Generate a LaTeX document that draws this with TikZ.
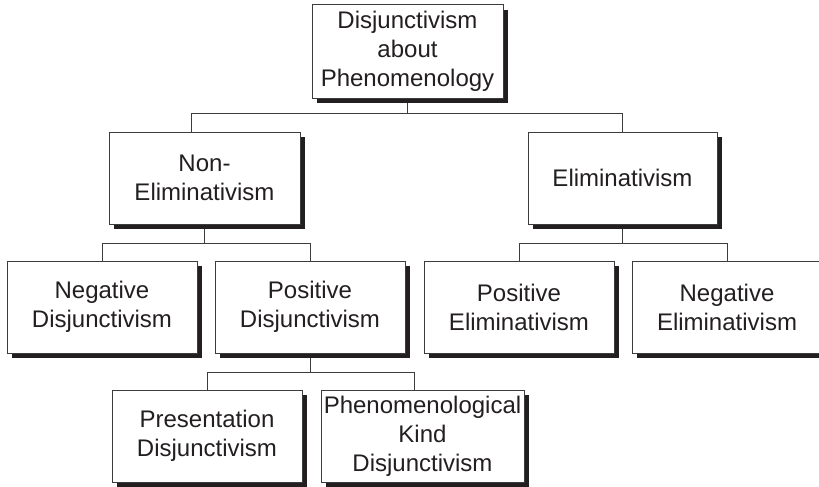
\documentclass[tikz,border=0pt]{standalone}
\usepackage{fontspec}
\setmainfont{Liberation Sans}
\usetikzlibrary{shadows,backgrounds}
\definecolor{ink}{HTML}{231F20}
\definecolor{edgec}{HTML}{3C3C3C}
\begin{document}
\begin{tikzpicture}[x=1pt,y=-1pt,
  box/.style={draw=edgec, line width=1pt, fill=white, align=center, text=ink,
    inner sep=2pt, minimum height=92pt,
    font=\fontsize{24}{29}\selectfont,
    drop shadow={shadow xshift=5pt, shadow yshift=-5pt, fill=ink, opacity=1}},
  link/.style={draw=edgec, line width=1pt}]
\useasboundingbox (0,0) rectangle (819,487);
\clip (0,0) rectangle (819,487);

\node[box, minimum width=191pt, minimum height=93pt] (top) at (407.5,51.5) {Disjunctivism\\about\\Phenomenology};

\node[box, minimum width=191pt] (nonelim) at (204.5,178) {Non-\\Eliminativism};
\node[box, minimum width=189pt] (elim) at (622.5,178) {Eliminativism};

\node[box, minimum width=190pt] (negd) at (102,307) {Negative\\Disjunctivism};
\node[box, minimum width=190pt] (posd) at (310,307) {Positive\\Disjunctivism};
\node[box, minimum width=190pt] (pose) at (519,307) {Positive\\Eliminativism};
\node[box, minimum width=190pt] (nege) at (727,307) {Negative\\Eliminativism};

\node[box, minimum width=190pt] (pres) at (207,436) {Presentation\\Disjunctivism};
\node[box, minimum width=203pt] (phen) at (422.5,436) {Phenomenological\\Kind\\Disjunctivism};

\coordinate (a1) at (191,113);
\coordinate (a2) at (622.5,113);
\coordinate (b1) at (0,243);
\coordinate (c1) at (414,372);

\begin{pgfonlayer}{background}
\draw[link] (top.south) -- (top.south |- a1);
\draw[link] (nonelim.north -| a1) -- (a1) -- (a2) -- (elim.north);

\draw[link] (nonelim.south) -- (nonelim.south |- b1);
\draw[link] (negd.north) -- (negd.north |- b1) -- (posd.north |- b1) -- (posd.north);
\draw[link] (elim.south) -- (elim.south |- b1);
\draw[link] (pose.north) -- (pose.north |- b1) -- (nege.north |- b1) -- (nege.north);

\draw[link] (posd.south) -- (posd.south |- c1);
\draw[link] (pres.north) -- (pres.north |- c1) -- (c1) -- (phen.north -| c1);
\end{pgfonlayer}
\end{tikzpicture}
\end{document}
